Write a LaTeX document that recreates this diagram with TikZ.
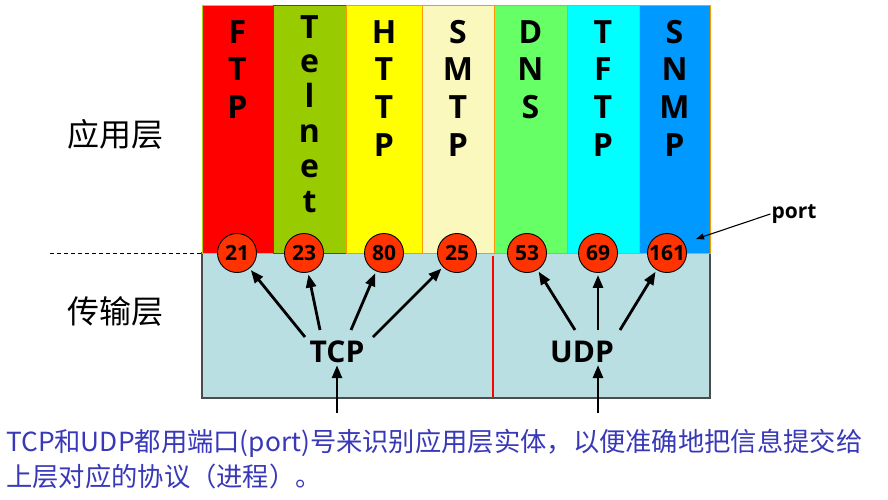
\documentclass[tikz,border=0pt]{standalone}
\usepackage{fontspec}
\setmainfont{Open Sans}
\newfontfamily\cjk{Noto Sans CJK SC}
\usetikzlibrary{arrows.meta}
\definecolor{cFTP}{HTML}{FF0000}
\definecolor{cTEL}{HTML}{99CC00}
\definecolor{cHTTP}{HTML}{FFFF00}
\definecolor{cSMTP}{HTML}{FAF8BC}
\definecolor{cDNS}{HTML}{66FF66}
\definecolor{cTFTP}{HTML}{00FFFF}
\definecolor{cSNMP}{HTML}{0099FF}
\definecolor{edgeO}{HTML}{FF9900}
\definecolor{transp}{HTML}{BADFE3}
\definecolor{portred}{HTML}{FF3300}
\definecolor{note}{HTML}{3838B8}
\newcommand\colletters[5]{%
  \foreach \l [count=\i] in {#5} {
    \node[letter] (#4-\i) at (#1, {#2+(\i-1)*#3}) {\l};
  }}
\begin{document}
\begin{tikzpicture}[x=1pt,y=-1pt,
  letter/.style={font=\bfseries\fontsize{32}{32}\selectfont, anchor=base, inner sep=0pt},
  portc/.style={circle, draw=black, line width=0.9pt, fill=portred, minimum size=39pt, inner sep=0pt, font=\bfseries\fontsize{21}{21}\selectfont},
  proto/.style={font=\bfseries\fontsize{30}{30}\selectfont, inner sep=2pt},
  layer/.style={font=\cjk\fontsize{32}{32}\selectfont, inner sep=0pt},
  bigarr/.style={line width=2.8pt, -{Triangle[length=13pt,width=10pt]}, shorten >=2pt},
  notetxt/.style={font=\cjk\fontsize{26.3}{26.3}\selectfont, text=note, anchor=west, inner sep=0pt}]
\path[use as bounding box] (0,0) rectangle (888,499);
% transport layer box
\draw[fill=transp, draw=black!70, line width=1.1pt] (202,253) rectangle (710,398);
\draw[red, line width=1.2pt] (493,256) -- (493,398);
% application columns
\draw[fill=cFTP, draw=cTEL!80!yellow, line width=0.8pt] (202,5) rectangle (273,253);
\draw[fill=cTEL, draw=red, line width=0.8pt] (273,5) rectangle (346,253);
\draw[fill=cHTTP, draw=edgeO, line width=0.8pt] (346,5) rectangle (422,253);
\draw[fill=cSMTP, draw=edgeO, line width=0.8pt] (422,5) rectangle (494,253);
\draw[fill=cDNS, draw=edgeO, line width=0.8pt] (494,5) rectangle (567,253);
\draw[fill=cTFTP, draw=edgeO, line width=0.8pt] (567,5) rectangle (639,253);
\draw[fill=cSNMP, draw=edgeO, line width=0.8pt] (639,5) rectangle (710,253);
% dashed separator
\draw[dashed, line width=0.8pt, dash pattern=on 4pt off 3pt] (50,253) -- (202,253);
% column letters
\colletters{237.5}{43}{37.7}{ftp}{F,T,P}
\colletters{309.5}{38}{34.8}{tel}{T,e,l,n,e,t}
\colletters{384}{43}{37.9}{http}{H,T,T,P}
\colletters{458}{43}{37.9}{smtp}{S,M,T,P}
\colletters{530.5}{43}{37.7}{dns}{D,N,S}
\colletters{603}{43}{37.9}{tftp}{T,F,T,P}
\colletters{674.5}{43}{37.9}{snmp}{S,N,M,P}
% layer labels
\node[layer] (app) at (115,134) {应用层};
\node[layer] (trans) at (115,311) {传输层};
% ports
\node[portc] (p21) at (237,253) {21};
\node[portc] (p23) at (304,253) {23};
\node[portc] (p80) at (384,253) {80};
\node[portc] (p25) at (457,253) {25};
\node[portc] (p53) at (527,253) {53};
\node[portc] (p69) at (598,253) {69};
\node[portc] (p161) at (667,253) {161};
% protocols
\node[proto] (tcp) at (337,352) {TCP};
\node[proto] (udp) at (582,352) {UDP};
\draw[bigarr] ([shift={(-32,-15)}]tcp.center) -- (p21);
\draw[bigarr] ([shift={(-17,-22)}]tcp.center) -- (p23);
\draw[bigarr] ([shift={(14,-22)}]tcp.center) -- (p80);
\draw[bigarr] ([shift={(36,-15)}]tcp.center) -- (p25);
\draw[bigarr] ([shift={(-7,-22)}]udp.center) -- (p53);
\draw[bigarr] ([shift={(16,-22)}]udp.center) -- (p69);
\draw[bigarr] ([shift={(38,-22)}]udp.center) -- (p161);
\coordinate (tcpin) at (337,413);
\coordinate (udpin) at (598,413);
\draw[bigarr, shorten >=0pt] (tcpin) -- (tcp.south);
\draw[bigarr, shorten >=0pt] (udpin) -- (udpin |- udp.south);
% port label
\node[font=\bfseries\fontsize{21}{21}\selectfont, inner sep=1pt] (portl) at (794,214) {port};
\draw[line width=1.1pt, -{Triangle[length=8pt,width=6pt]}] (portl.west) -- ([shift={(29,-14)}]p161.center);
% note
\node[notetxt] (n1) at (6,443) {TCP和UDP都用端口(port)号来识别应用层实体，以便准确地把信息提交给};
\node[notetxt] (n2) at (6,476) {上层对应的协议（进程）。};
\end{tikzpicture}
\end{document}
